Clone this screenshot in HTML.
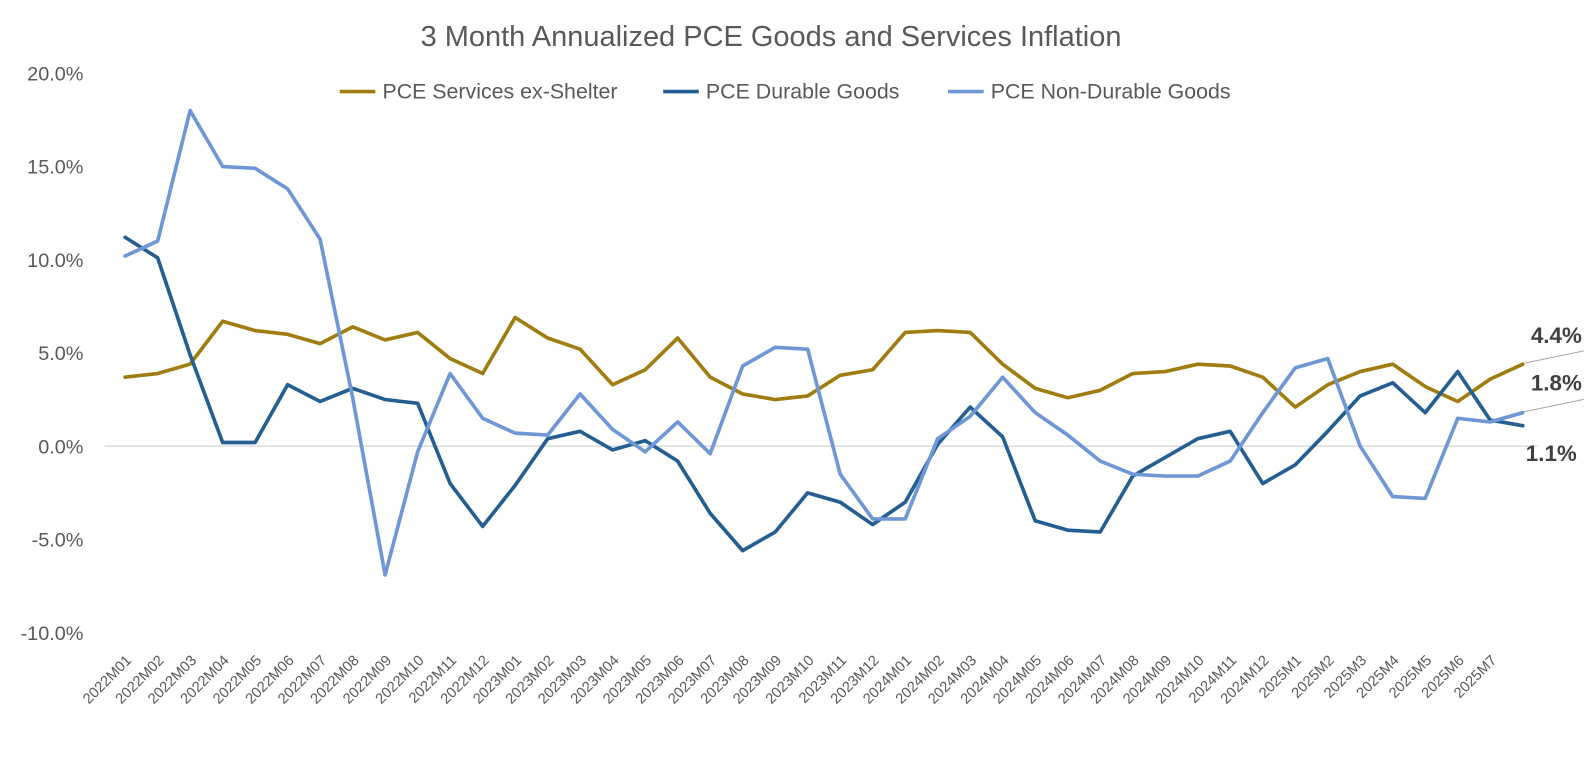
<!DOCTYPE html>
<html><head><meta charset="utf-8"><style>
body{margin:0;background:#fff;}
svg text{font-family:"Liberation Sans",sans-serif;}
</style></head><body>
<svg id="chart" width="1595" height="752" xmlns="http://www.w3.org/2000/svg">
<g transform="scale(1.0172)">
<text x="758" y="45" text-anchor="middle" font-size="28.5" fill="#595959">3 Month Annualized PCE Goods and Services Inflation</text>
<g id="legend"></g>
<g id="yaxis"></g>
<g id="xaxis"></g>
<g id="series"></g>
<g id="labels"></g>
</g>
</svg>
<script>
const categories=["2022M01","2022M02","2022M03","2022M04","2022M05","2022M06","2022M07","2022M08","2022M09","2022M10","2022M11","2022M12","2023M01","2023M02","2023M03","2023M04","2023M05","2023M06","2023M07","2023M08","2023M09","2023M10","2023M11","2023M12","2024M01","2024M02","2024M03","2024M04","2024M05","2024M06","2024M07","2024M08","2024M09","2024M10","2024M11","2024M12","2025M1","2025M2","2025M3","2025M4","2025M5","2025M6","2025M7",""];
const services=[3.7,3.9,4.4,6.7,6.2,6.0,5.5,6.4,5.7,6.1,4.7,3.9,6.9,5.8,5.2,3.3,4.1,5.8,3.7,2.8,2.5,2.7,3.8,4.1,6.1,6.2,6.1,4.4,3.1,2.6,3.0,3.9,4.0,4.4,4.3,3.7,2.1,3.3,4.0,4.4,3.2,2.4,3.6,4.4];
const durable=[11.2,10.1,4.9,0.2,0.2,3.3,2.4,3.1,2.5,2.3,-2.0,-4.3,-2.1,0.4,0.8,-0.2,0.3,-0.8,-3.6,-5.6,-4.6,-2.5,-3.0,-4.2,-3.0,0.1,2.1,0.5,-4.0,-4.5,-4.6,-1.6,-0.6,0.4,0.8,-2.0,-1.0,0.8,2.7,3.4,1.8,4.0,1.4,1.1];
const nondurable=[10.2,11.0,18.0,15.0,14.9,13.8,11.1,2.6,-6.9,-0.3,3.9,1.5,0.7,0.6,2.8,0.9,-0.3,1.3,-0.4,4.3,5.3,5.2,-1.5,-3.9,-3.9,0.4,1.6,3.7,1.8,0.6,-0.8,-1.5,-1.6,-1.6,-0.8,1.8,4.2,4.7,0.0,-2.7,-2.8,1.5,1.3,1.8];
const yTicks=[20,15,10,5,0,-5,-10];
const seriesNames=["PCE Services ex-Shelter","PCE Durable Goods","PCE Non-Durable Goods"];
const colors=["#A07D10","#255E91","#6F97D6"];
const NS="http://www.w3.org/2000/svg";
const x0=123,x1=1497,yTop=72,yBot=622,vMax=20,vMin=-10;
function X(i){return x0+(x1-x0)*i/(categories.length-1);}
function Y(v){return yTop+(vMax-v)*(yBot-yTop)/(vMax-vMin);}
function mk(tag,attrs,parent){const e=document.createElementNS(NS,tag);for(const k in attrs)e.setAttribute(k,attrs[k]);parent.appendChild(e);return e;}
const ya=document.getElementById('yaxis');
yTicks.forEach(t=>{const e=mk('text',{x:82,y:Y(t)+7,'text-anchor':'end','font-size':19.5,fill:'#595959'},ya);


e.textContent=t.toFixed(1)+'%';});
const zl=mk('line',{x1:x0-20,x2:x1+15,y1:Y(0),y2:Y(0),stroke:'#d9d9d9','stroke-width':1.3},ya);


const xa=document.getElementById('xaxis');
categories.forEach((c,i)=>{if(!c)return;const e=mk('text',{x:0,y:0,'text-anchor':'end','font-size':14.5,fill:'#595959',transform:`translate(${X(i)+7},${650}) rotate(-45)`},xa);


e.textContent=c;});
const sg=document.getElementById('series');
[services,durable,nondurable].forEach((s,k)=>{const d=s.map((v,i)=>(i?'L':'M')+X(i).toFixed(1)+','+Y(v).toFixed(1)).join('');
const p=mk('path',{d:d,fill:'none',stroke:colors[k],'stroke-width':3.6,'stroke-linejoin':'round','stroke-linecap':'round'},sg);

});
const lg=document.getElementById('legend');
const lx=[334,652,932];
seriesNames.forEach((n,k)=>{mk('line',{x1:lx[k],x2:lx[k]+35,y1:90,y2:90,stroke:colors[k],'stroke-width':3.6},lg);
const t=mk('text',{x:lx[k]+42,y:97,'font-size':21,fill:'#595959'},lg);


t.textContent=n;});
const lb=document.getElementById('labels');
const last=categories.length-1;
const ends=[[services,337,true,1505],[nondurable,384,true,1505],[durable,453,false,1500]];
ends.forEach(([s,ly,lead,lxp])=>{const v=s[last];
if(lead){const l=mk('line',{x1:X(last)+2,y1:Y(v)-1,x2:X(last)+60,y2:Y(v)-13,stroke:'#a6a6a6','stroke-width':1},lb);

}
const t=mk('text',{x:lxp,y:ly,'font-size':22,'font-weight':'bold',fill:'#404040'},lb);


t.textContent=v.toFixed(1)+'%';});
</script>
</body></html>
